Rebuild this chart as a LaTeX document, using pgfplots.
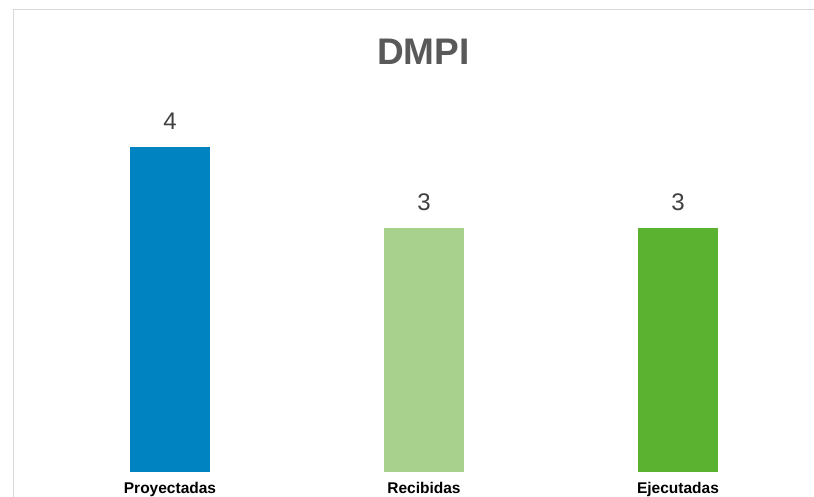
\documentclass[border=0pt]{standalone}
\usepackage{pgfplots}
\pgfplotsset{compat=1.18}
\usepackage{fontspec}
\setmainfont{Liberation Sans}
\definecolor{bordc}{HTML}{D9D9D9}
\definecolor{titc}{HTML}{595959}
\definecolor{valc}{HTML}{404040}
\definecolor{cblue}{HTML}{0083C1}
\definecolor{clgreen}{HTML}{A9D18E}
\definecolor{cgreen}{HTML}{5BB130}
\begin{document}
\begin{tikzpicture}
\useasboundingbox (0,0) rectangle (814bp,497bp);
\fill[white] (0,0) rectangle (814bp,497bp);
\draw[bordc, line width=1.5bp] (13.5bp,-20bp) -- (13.5bp,487.5bp) -- (830bp,487.5bp);
\node[anchor=base, inner sep=0pt, text=titc, font=\fontsize{37bp}{44bp}\selectfont\bfseries] at (423.5bp,432bp) {DMPI};
\begin{axis}[
  at={(43bp,25bp)}, anchor=south west,
  scale only axis, width=762bp, height=325bp,
  xmin=-0.5, xmax=2.5, ymin=0, ymax=4,
  /pgf/number format/assume math mode=true,
  axis line style={draw=none},
  major tick length=0pt,
  ytick=\empty,
  xtick={0,1,2},
  xticklabels={Proyectadas,Recibidas,Ejecutadas},
  xticklabel style={anchor=north, inner sep=0pt, yshift=-10bp, font=\fontsize{15.5bp}{18bp}\selectfont\bfseries, text=black},
  ybar, bar width=80bp, bar shift=0pt,
  clip=false,
  nodes near coords,
  every node near coord/.append style={anchor=south, inner sep=0pt, yshift=17bp, font=\fontsize{24bp}{28bp}\selectfont, text=valc},
]
\addplot[draw=none, fill=cblue] coordinates {(0,4)};
\addplot[draw=none, fill=clgreen] coordinates {(1,3)};
\addplot[draw=none, fill=cgreen] coordinates {(2,3)};
\end{axis}
\end{tikzpicture}
\end{document}
